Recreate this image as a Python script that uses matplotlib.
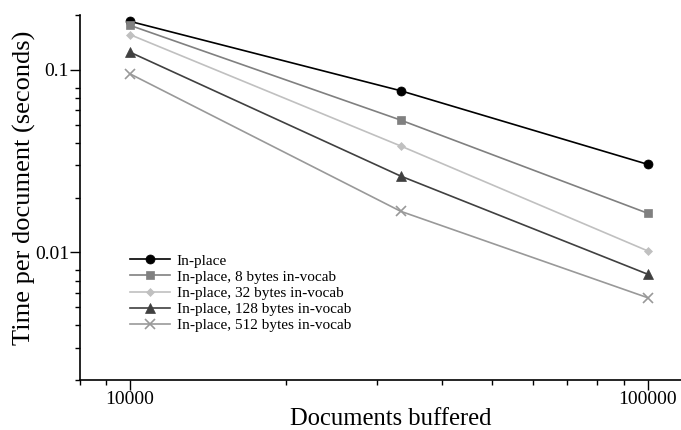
import matplotlib
matplotlib.use('Agg')
import matplotlib.pyplot as plt
import matplotlib.ticker as ticker

# Data
docs = [10000, 33333, 100000]
in_place = [0.1845, 0.0769, 0.0304]
in_place_8 = [0.1754, 0.0531, 0.0164]
in_place_32 = [0.156, 0.0383, 0.0102]
in_place_128 = [0.125, 0.0262, 0.0076]
in_place_512 = [0.0951, 0.0168, 0.00565]

labels = ['In-place', 'In-place, 8 bytes in-vocab', 'In-place, 32 bytes in-vocab',
          'In-place, 128 bytes in-vocab', 'In-place, 512 bytes in-vocab']
series = [in_place, in_place_8, in_place_32, in_place_128, in_place_512]
colors = ['#000000', '#808080', '#c0c0c0', '#404040', '#999999']
markers = ['o', 's', 'D', '^', 'x']
msizes = [6.5, 6, 4.5, 6.5, 6.5]

plt.rcParams['font.family'] = 'Liberation Serif'

fig = plt.figure(figsize=(6.81, 4.30), dpi=100)
ax = fig.add_axes([80 / 681, 50 / 430, 601 / 681, 365 / 430])

for vals, lab, c, m, ms in zip(series, labels, colors, markers, msizes):
    ax.plot(docs, vals, color=c, marker=m, markersize=ms, linewidth=1.2,
            markeredgewidth=1.2 if m == 'x' else 0.5, label=lab)

ax.set_xscale('log')
ax.set_yscale('log')
ax.set_xlim(8000, 116000)
ax.set_ylim(0.002, 0.2)

# Axis ticks: major decades, minor ticks (y skips the 9s like the original)
ax.xaxis.set_major_locator(ticker.FixedLocator([10000, 100000]))
ax.xaxis.set_major_formatter(ticker.FixedFormatter(['10000', '100000']))
ax.xaxis.set_minor_locator(ticker.LogLocator(base=10, subs=range(2, 10)))
ax.xaxis.set_minor_formatter(ticker.NullFormatter())
ax.yaxis.set_major_locator(ticker.FixedLocator([0.01, 0.1]))
ax.yaxis.set_major_formatter(ticker.FixedFormatter(['0.01', '0.1']))
ax.yaxis.set_minor_locator(ticker.LogLocator(base=10, subs=range(2, 9)))
ax.yaxis.set_minor_formatter(ticker.NullFormatter())

ax.spines['top'].set_visible(False)
ax.spines['right'].set_visible(False)
ax.spines['left'].set_linewidth(1.2)
ax.spines['bottom'].set_linewidth(1.2)
ax.tick_params(which='major', direction='out', length=7, width=1, labelsize=14, pad=1)
ax.tick_params(which='minor', direction='out', length=3.5, width=1)

ax.set_xlabel('Documents buffered', fontsize=17.7)
ax.xaxis.set_label_coords(0.517, -0.076)
ax.set_ylabel('Time per document (seconds)', fontsize=19)
ax.yaxis.set_label_coords(-0.074, 0.527)

ax.legend(loc='upper left', bbox_to_anchor=(130 / 681, 1 - 254 / 430),
          bbox_transform=fig.transFigure, frameon=False, fontsize=11,
          handlelength=2.6, handletextpad=0.45, labelspacing=0.16,
          borderpad=0, borderaxespad=0)

plt.savefig('out.png', dpi=100)
